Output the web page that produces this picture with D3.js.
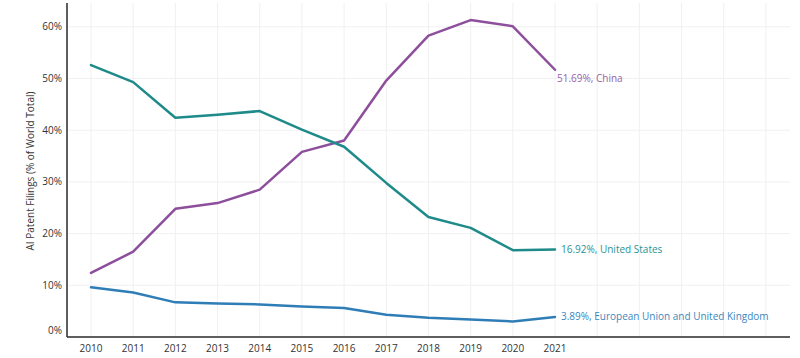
<!DOCTYPE html>
<html>
<head>
<meta charset="utf-8">
<script src="https://cdn.jsdelivr.net/npm/d3@7"></script>
<style>
  html, body { margin: 0; padding: 0; background: #fff; }
  svg { display: block; font-family: "Open Sans", Lato, sans-serif; }
</style>
</head>
<body>
<svg id="chart" width="800" height="358"></svg>
<script>
const years = [2010, 2011, 2012, 2013, 2014, 2015, 2016, 2017, 2018, 2019, 2020, 2021];
const chinaValues = [12.4, 16.5, 24.8, 25.9, 28.5, 35.8, 38.0, 49.6, 58.3, 61.3, 60.1, 51.69];
const usValues = [52.6, 49.3, 42.4, 43.0, 43.7, 40.1, 36.8, 29.8, 23.2, 21.1, 16.8, 16.92];
const euValues = [9.6, 8.6, 6.7, 6.5, 6.3, 5.9, 5.6, 4.3, 3.7, 3.4, 3.0, 3.89];
const seriesNames = ["China", "United States", "European Union and United Kingdom"];
const seriesColors = ["#8d4f9c", "#1e8a8a", "#2f7db6"];
const labelColors = ["#9a62a8", "#2a9393", "#3b87bd"];
const yTicks = [0, 10, 20, 30, 40, 50, 60];
const gridYears = [2010, 2011, 2012, 2013, 2014, 2015, 2016, 2017, 2018, 2019, 2020, 2021, 2022, 2023, 2024, 2025, 2026];
const yTitle = "AI Patent Filings (% of World Total)";

(function () {
const svg = d3.select("#chart");
const mLeft = 67, mRight = 790, mTop = 3, mBottom = 337;

const x = d3.scaleLinear().domain([2010, 2021]).range([91, 555]);
const y = d3.scaleLinear().domain([0, 64.6]).range([mBottom, mTop]);

// gridlines
svg.append("g").selectAll("line").data(gridYears).join("line")
  .attr("x1", d => x(d)).attr("x2", d => x(d))
  .attr("y1", mTop).attr("y2", mBottom)
  .attr("stroke", "#f0f0f2").attr("stroke-width", 1);
svg.append("g").selectAll("line").data(yTicks.filter(d => d > 0)).join("line")
  .attr("x1", mLeft).attr("x2", mRight)
  .attr("y1", d => y(d)).attr("y2", d => y(d))
  .attr("stroke", "#f0f0f2").attr("stroke-width", 1);

// axes lines
svg.append("line").attr("x1", mLeft).attr("x2", mLeft).attr("y1", mTop).attr("y2", mBottom)
  .attr("stroke", "#2a2a2a").attr("stroke-width", 1.5);
svg.append("line").attr("x1", mLeft).attr("x2", mRight).attr("y1", mBottom).attr("y2", mBottom)
  .attr("stroke", "#2a2a2a").attr("stroke-width", 1.5);

// y tick labels
svg.append("g").selectAll("text").data(yTicks).join("text")
  .attr("x", 62)
  .attr("y", d => d === 0 ? y(d) - 7 : y(d))
  .attr("dy", "0.35em")
  .attr("text-anchor", "end")
  .attr("font-size", 10)
  .attr("fill", "#333")
  .text(d => d + "%");

// x tick labels
svg.append("g").selectAll("text").data(years).join("text")
  .attr("x", d => x(d))
  .attr("y", 348)
  .attr("dy", "0.35em")
  .attr("text-anchor", "middle")
  .attr("font-size", 10)
  .attr("fill", "#333")
  .text(d => d);

// y title
svg.append("text")
  .attr("transform", "translate(30,171) rotate(-90)")
  .attr("text-anchor", "middle")
  .attr("dy", "0.35em")
  .attr("font-size", 10)
  .attr("fill", "#333")
  .text(yTitle);

const allValues = [chinaValues, usValues, euValues];
const line = d3.line().x((d, i) => x(years[i])).y(d => y(d));

allValues.forEach((vals, k) => {
  svg.append("path")
    .datum(vals)
    .attr("d", line)
    .attr("fill", "none")
    .attr("stroke", seriesColors[k])
    .attr("stroke-width", 2.5)
    .attr("stroke-linejoin", "round")
    .attr("stroke-linecap", "round");
});

// end labels
const lastIdx = years.length - 1;
const labelOffsets = [[2, 9], [6, 0], [6, 0]];
allValues.forEach((vals, k) => {
  const v = vals[lastIdx];
  svg.append("text")
    .attr("x", x(years[lastIdx]) + labelOffsets[k][0])
    .attr("y", y(v) + labelOffsets[k][1])
    .attr("dy", "0.35em")
    .attr("font-size", 10)
    .attr("fill", labelColors[k])
    .text(v.toFixed(2) + "%, " + seriesNames[k]);
});
})();
</script>
</body>
</html>
